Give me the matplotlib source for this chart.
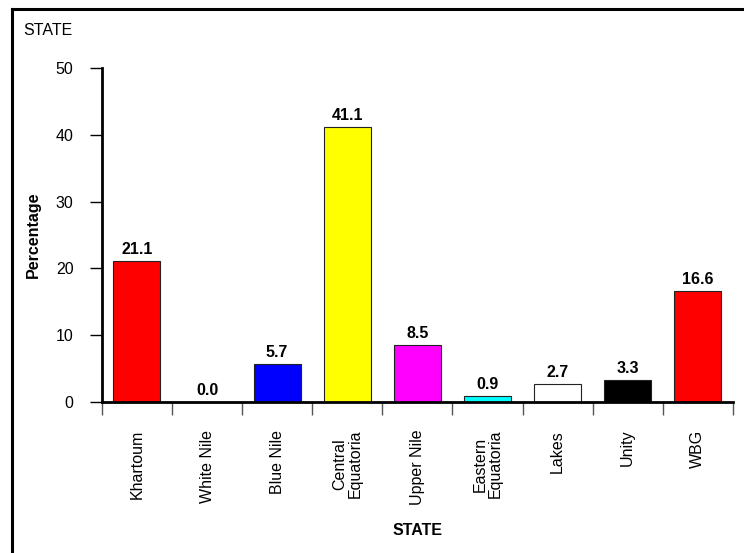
import matplotlib.pyplot as plt
from matplotlib.lines import Line2D

plt.rcParams['font.family'] = ['Liberation Sans', 'DejaVu Sans']

# data
states = ['Khartoum', 'White Nile', 'Blue Nile', 'Central\nEquatoria', 'Upper Nile',
          'Eastern\nEquatoria', 'Lakes', 'Unity', 'WBG']
percent = [21.1, 0.0, 5.7, 41.1, 8.5, 0.9, 2.7, 3.3, 16.6]
colours = ['#ff0000', '#ffffff', '#0000ff', '#ffff00', '#ff00ff',
           '#00ffff', '#ffffff', '#000000', '#ff0000']

fs = 11.5

fig = plt.figure(figsize=(7.44, 5.53), dpi=100)
ax = fig.add_axes([0.137, 0.273, 0.848, 0.604])

x = list(range(len(states)))
ax.bar(x, percent, width=0.67, color=colours, edgecolor='#222222', linewidth=0.8)

# value labels above bars
for xi, v in zip(x, percent):
    ax.text(xi, v + 0.6, '%.1f' % v, ha='center', va='bottom', fontsize=fs, fontweight='bold')

ax.set_xlim(-0.5, len(states) - 0.5)
ax.set_ylim(0, 50)
ax.set_yticks([0, 10, 20, 30, 40, 50])
ax.tick_params(axis='y', labelsize=fs, length=8.5, width=1, pad=12, direction='out')

# labels at centers, tick marks at category boundaries
ax.set_xticks(x)
ax.set_xticklabels(states, rotation=90, fontsize=fs, va='top', ha='center', linespacing=1.0)
ax.tick_params(axis='x', which='major', length=0, pad=20)
ax.set_xticks([i - 0.5 for i in range(len(states) + 1)], minor=True)
ax.tick_params(axis='x', which='minor', length=9, width=1, color='#555555', direction='out')

for s in ['top', 'right']:
    ax.spines[s].set_visible(False)
for s in ['left', 'bottom']:
    ax.spines[s].set_linewidth(2)

ax.set_ylabel('Percentage', fontsize=fs, fontweight='bold')
ax.yaxis.set_label_coords(-0.097, 0.5)
ax.set_xlabel('STATE', fontsize=fs, fontweight='bold')
ax.xaxis.set_label_coords(0.5, -0.362)

fig.text(0.031, 0.945, 'STATE', fontsize=fs, va='center', ha='left')

# outer frame (only left and top visible in the original)
fig.add_artist(Line2D([0.016, 0.016], [0.0, 0.983], transform=fig.transFigure, color='black', linewidth=2.2))
fig.add_artist(Line2D([0.016, 1.0], [0.983, 0.983], transform=fig.transFigure, color='black', linewidth=2.2))

plt.savefig('out.png', dpi=100)
